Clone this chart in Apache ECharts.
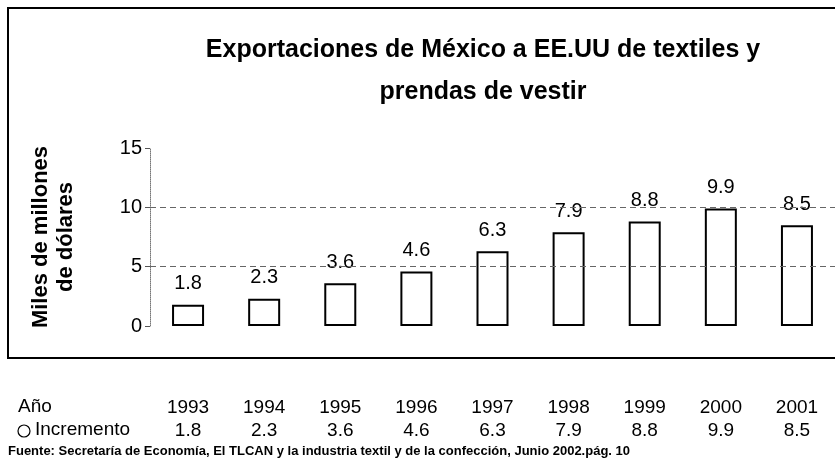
<!DOCTYPE html>
<html>
<head>
<meta charset="utf-8">
<script src="https://cdn.jsdelivr.net/npm/echarts@6/dist/echarts.min.js"></script>
<style>
  html, body { margin: 0; padding: 0; background: #fff; }
  #main { width: 835px; height: 473px; }
</style>
</head>
<body>
<div id="main"></div>
<script>
const years = ['1993', '1994', '1995', '1996', '1997', '1998', '1999', '2000', '2001']
const incremento = [1.8, 2.3, 3.6, 4.6, 6.3, 7.9, 8.8, 9.9, 8.5]
const yTicks = [0, 5, 10, 15]
const gridValues = [5, 10]

const sans = "'Liberation Sans', Arial, sans-serif"
const chart = echarts.init(document.getElementById('main'))

const option = {
  backgroundColor: '#fff',
  animation: false,
  title: {
    text: 'Exportaciones de México a EE.UU de textiles y\nprendas de vestir',
    left: 478,
    top: 24,
    textAlign: 'center',
    textStyle: {
      fontFamily: sans,
      fontWeight: 'bold',
      fontSize: 25,
      lineHeight: 42,
      color: '#000'
    }
  },
  grid: {
    left: 150,
    right: -6,
    top: 148,
    bottom: 147
  },
  xAxis: {
    type: 'category',
    data: years,
    axisLine: { show: false },
    axisTick: { show: false },
    axisLabel: {
      margin: 70,
      interval: 0,
      formatter: (v, i) => '{y|' + v + '}\n{v|' + incremento[i] + '}',
      rich: {
        y: { fontFamily: sans, fontSize: 19, lineHeight: 23, color: '#000' },
        v: { fontFamily: sans, fontSize: 19, lineHeight: 23, color: '#000' }
      }
    }
  },
  yAxis: {
    type: 'value',
    min: yTicks[0],
    max: yTicks[yTicks.length - 1],
    interval: 5,
    name: 'Miles de millones\nde dólares',
    nameLocation: 'middle',
    nameGap: 72,
    nameTextStyle: {
      fontFamily: sans,
      fontWeight: 'bold',
      fontSize: 22,
      lineHeight: 25,
      color: '#000'
    },
    axisLine: { show: true, lineStyle: { color: '#777', type: 'dotted', width: 1 } },
    axisTick: { show: true, length: 5, lineStyle: { color: '#555' } },
    axisLabel: {
      fontFamily: sans,
      fontSize: 20,
      color: '#000',
      margin: 8
    },
    splitLine: { show: false }
  },
  series: [{
    name: 'Incremento',
    type: 'bar',
    data: incremento,
    barWidth: 32,
    itemStyle: { color: '#fff', borderColor: '#000', borderWidth: 2 },
    label: {
      show: true,
      position: 'top',
      distance: 11,
      fontFamily: sans,
      fontSize: 20,
      color: '#000'
    },
    markLine: {
      silent: true,
      symbol: 'none',
      label: { show: false },
      lineStyle: { color: '#666', type: [6, 4], width: 1 },
      data: gridValues.map(v => ({ yAxis: v }))
    }
  }],
  graphic: [
    {
      type: 'rect',
      shape: { x: 8, y: 8, width: 835, height: 350 },
      style: { fill: 'none', stroke: '#000', lineWidth: 2 },
      silent: true
    },
    {
      type: 'text',
      left: 18,
      top: 397,
      style: { text: 'Año', font: '19px ' + sans, fill: '#000' }
    },
    {
      type: 'circle',
      shape: { cx: 24, cy: 431, r: 6 },
      style: { fill: '#fff', stroke: '#000', lineWidth: 1.2 }
    },
    {
      type: 'text',
      left: 35,
      top: 420,
      style: { text: 'Incremento', font: '19px ' + sans, fill: '#000' }
    },
    {
      type: 'text',
      left: 8,
      top: 445,
      style: {
        text: 'Fuente: Secretaría de Economía, El TLCAN y la industria textil y de la confección, Junio 2002.pág. 10',
        font: 'bold 13px ' + sans,
        fill: '#000'
      }
    }
  ]
}

chart.setOption(option)

window.addEventListener('resize', () => {
  chart.resize()
})
</script>
</body>
</html>
